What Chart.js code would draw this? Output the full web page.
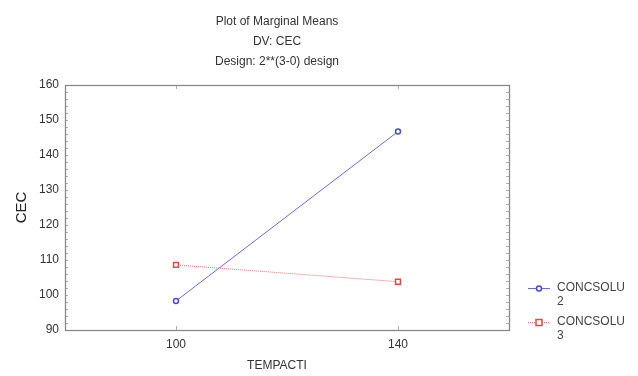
<!DOCTYPE html>
<html>
<head>
<meta charset="utf-8">
<script src="https://cdn.jsdelivr.net/npm/chart.js@4"></script>
<style>
 body{margin:0;background:#fff;}
 #wrap{width:638px;height:376px;position:relative;}
</style>
</head>
<body>
<div id="wrap"><canvas id="chart" width="638" height="376"></canvas></div>
<script>
// Plot of Marginal Means, CEC by TEMPACTI
const tempacti = [100, 140];
const concsolu2 = [98.3, 146.7];
const concsolu3 = [108.6, 103.8];
const seriesNames = [["CONCSOLU", "2"], ["CONCSOLU", "3"]];
const titleLines = ["Plot of Marginal Means", "DV: CEC", "Design: 2**(3-0) design"];
const xTicks = [100, 140];

const txt = "#333";
const blue = "#6a6ae6", red = "#ee6a6a";
const fnt = "Arial, 'Liberation Sans'";

const extras = {
 id:"extras",
 afterDraw(c){
  const ctx=c.ctx, a=c.chartArea, ys=c.scales.y, xs=c.scales.x;
  ctx.save();
  // small inner ticks on both sides
  ctx.strokeStyle="#b0b0b0"; ctx.lineWidth=1;
  for(let v=92; v<160; v+=2){
   const py=Math.round(ys.getPixelForValue(v))+0.5;
   ctx.beginPath(); ctx.moveTo(a.left,py); ctx.lineTo(a.left+3,py);
   ctx.moveTo(a.right-3,py); ctx.lineTo(a.right,py); ctx.stroke();
  }
  xTicks.forEach(v=>{
   const px=Math.round(xs.getPixelForValue(v))+0.5;
   ctx.beginPath(); ctx.moveTo(px,a.top); ctx.lineTo(px,a.top+4);
   ctx.moveTo(px,a.bottom); ctx.lineTo(px,a.bottom-4); ctx.stroke();
  });
  ctx.strokeStyle="#8a8a8a"; ctx.lineWidth=1.3;
  ctx.strokeRect(Math.round(a.left)+0.5, Math.round(a.top)+0.5, Math.round(a.right-a.left), Math.round(a.bottom-a.top));
  ctx.fillStyle=txt; ctx.textAlign="center"; ctx.textBaseline="middle";
  ctx.font="12px "+fnt;
  titleLines.forEach((t,i)=>ctx.fillText(t, 277, 22+i*20));
  ctx.fillText("TEMPACTI", 277, 366);
  // legend
  const cols=[blue,red];
  seriesNames.forEach((lines,i)=>{
   const y=288+i*34;
   ctx.strokeStyle=cols[i]; ctx.lineWidth=1;
   if(i==1) ctx.setLineDash([1,1]);
   ctx.beginPath(); ctx.moveTo(528,y+0.5); ctx.lineTo(550,y+0.5); ctx.stroke();
   ctx.setLineDash([]);
   ctx.fillStyle="#fff"; ctx.lineWidth=1.5;
   ctx.strokeStyle=i==0?"#4a4ad8":"#e04848";
   if(i==0){ ctx.beginPath(); ctx.arc(539,y+0.5,2.5,0,Math.PI*2); ctx.fill(); ctx.stroke(); }
   else { ctx.fillRect(536,y-2.5,6,6); ctx.strokeRect(536,y-2.5,6,6); }
   ctx.fillStyle="#444"; ctx.textAlign="left";
   lines.forEach((l,j)=>ctx.fillText(l, 557, y+j*14));
  });
  ctx.restore();
 }
};

new Chart(document.getElementById('chart'),{
 type:'line',
 data:{
  datasets:[
   {label:seriesNames[0].join(" "), data:tempacti.map((x,i)=>({x:x,y:concsolu2[i]})),
    borderColor:blue, borderWidth:1, pointStyle:'circle', pointRadius:2.5,
    pointBorderWidth:1.5, pointBackgroundColor:"#fff", pointBorderColor:"#4a4ad8", tension:0},
   {label:seriesNames[1].join(" "), data:tempacti.map((x,i)=>({x:x,y:concsolu3[i]})),
    borderColor:red, borderWidth:1, borderDash:[1,1], pointStyle:'rect', pointRadius:3.5,
    pointBorderWidth:1.5, pointBackgroundColor:"#fff", pointBorderColor:"#e04848", tension:0}
  ]
 },
 options:{
  responsive:false, animation:false,
  layout:{padding:{left:0,top:85,right:129,bottom:0}},
  plugins:{legend:{display:false}, tooltip:{enabled:false}, title:{display:false}},
  scales:{
   x:{type:'linear', min:80, max:160,
    afterBuildTicks:s=>{s.ticks=xTicks.map(v=>({value:v}));},
    afterFit:s=>{s.height=46;},
    grid:{display:false, drawTicks:false}, border:{display:false},
    ticks:{color:txt, font:{family:fnt, size:12}, padding:7}},
   y:{min:90, max:160,
    afterFit:s=>{s.width=65;},
    grid:{display:false, drawTicks:false}, border:{display:false},
    ticks:{stepSize:10, color:txt, font:{family:fnt, size:12}, padding:6},
    title:{display:true, text:"CEC", color:"#222", font:{family:fnt, size:15}, padding:{top:13,bottom:0}}}
  }
 },
 plugins:[extras]
});
</script>
</body>
</html>
